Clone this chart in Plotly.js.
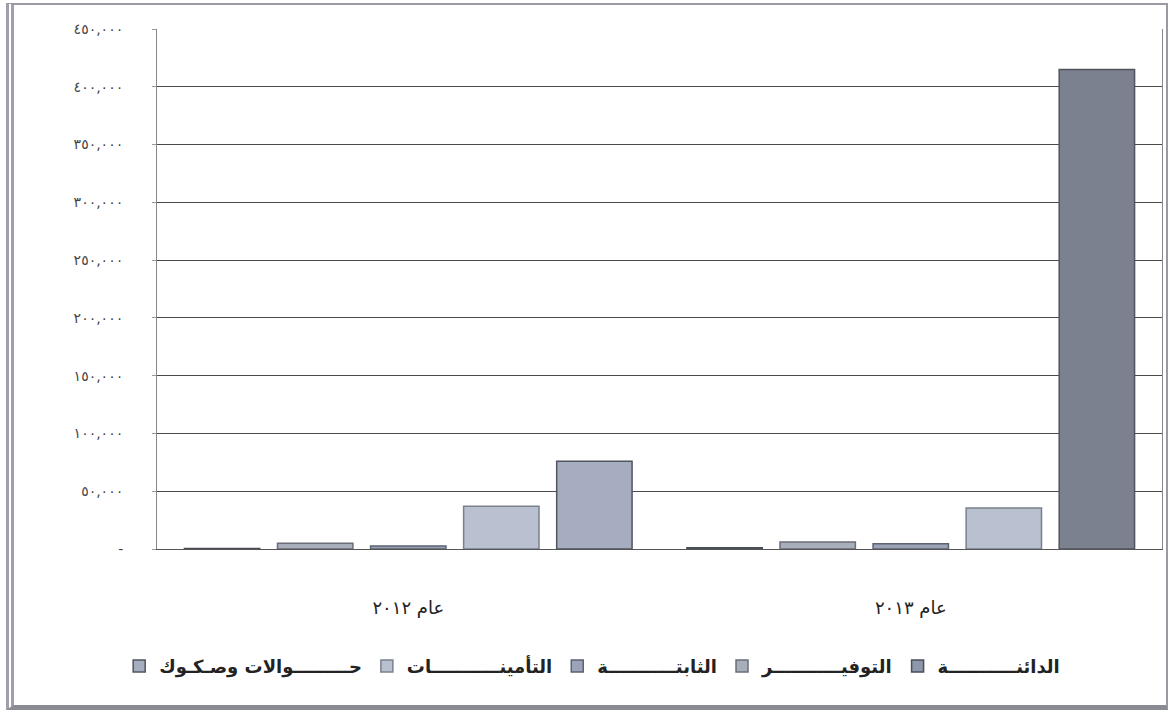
<!DOCTYPE html>
<html>
<head>
<meta charset="utf-8">
<script src="https://cdn.plot.ly/plotly-3.0.1.min.js"></script>
<style>
html,body{margin:0;padding:0;background:#fff;}
#wrap{position:relative;width:1168px;height:716px;}
#chart{width:1168px;height:716px;}
#frame{position:absolute;left:6px;top:3px;width:1152px;height:700px;border:2px solid #9a9aa2;border-left:8px double #a0a0aa;border-bottom:5px solid #8a8a92;pointer-events:none;}
</style>
</head>
<body>
<div id="wrap"><div id="chart"></div><div id="frame"></div></div>
<script>
const categories = ['عام ٢٠١٢', 'عام ٢٠١٣'];
const seriesNames = ['الدائنـــــــــــة', 'التوفيـــــــــــر', 'الثابتـــــــــــة', 'التأمينـــــــــــات', 'حـــــــــوالات وصـكـوك'];
const dainah   = [500, 1000];
const tawfeer  = [5000, 6000];
const thabitah = [2500, 4500];
const taminat  = [37000, 35500];
const hawalat  = [76000, 415000];
const tickValues = [0, 50000, 100000, 150000, 200000, 250000, 300000, 350000, 400000, 450000];
const tickLabels = ['-', '٥٠,٠٠٠', '١٠٠,٠٠٠', '١٥٠,٠٠٠', '٢٠٠,٠٠٠', '٢٥٠,٠٠٠', '٣٠٠,٠٠٠', '٣٥٠,٠٠٠', '٤٠٠,٠٠٠', '٤٥٠,٠٠٠'];

const values = [dainah, tawfeer, thabitah, taminat, hawalat];
const fills = ['#8f97aa', '#a9aebb', '#9aa3b8', '#b9c0d0', ['#a6adc0', '#7b818e']];
const lines = ['#4a4e58', '#6a6e78', '#5d6270', '#7a808c', '#50545e'];

const traces = values.map((v, i) => ({
  type: 'bar',
  name: seriesNames[i],
  x: categories,
  y: v,
  marker: {color: fills[i], line: {color: lines[i], width: 1.5}},
  hoverinfo: 'y'
}));

const layout = {
  width: 1168, height: 716,
  margin: {l: 157, r: 6, t: 29, b: 167},
  paper_bgcolor: '#ffffff',
  plot_bgcolor: '#ffffff',
  barmode: 'group',
  bargap: 0.074,
  bargroupgap: 0.19,
  font: {family: 'DejaVu Sans, sans-serif', color: '#333'},
  showlegend: true,
  legend: {
    orientation: 'h', traceorder: 'reversed',
    x: 0.433, xanchor: 'center', y: -0.19, yanchor: 'top',
    font: {size: 18, color: '#222', family: 'DejaVu Sans, sans-serif', weight: 'bold'},
    itemwidth: 30
  },
  xaxis: {
    type: 'category',
    showgrid: false, zeroline: false,
    showline: true, linecolor: '#555', linewidth: 1,
    ticks: '', tickfont: {size: 18, color: '#222'},
    ticklabelstandoff: 42
  },
  yaxis: {
    range: [0, 450000],
    tickvals: tickValues, ticktext: tickLabels,
    tickfont: {size: 14, color: '#444'},
    showgrid: true, gridcolor: '#4a4a4a', gridwidth: 1,
    showline: true, linecolor: '#888', linewidth: 1,
    mirror: true,
    zeroline: true, zerolinecolor: '#444',
    ticks: 'outside', ticklen: 4, tickcolor: '#999',
    ticklabelstandoff: 26
  }
};

Plotly.newPlot('chart', traces, layout, {displayModeBar: false, staticPlot: true});
</script>
</body>
</html>
